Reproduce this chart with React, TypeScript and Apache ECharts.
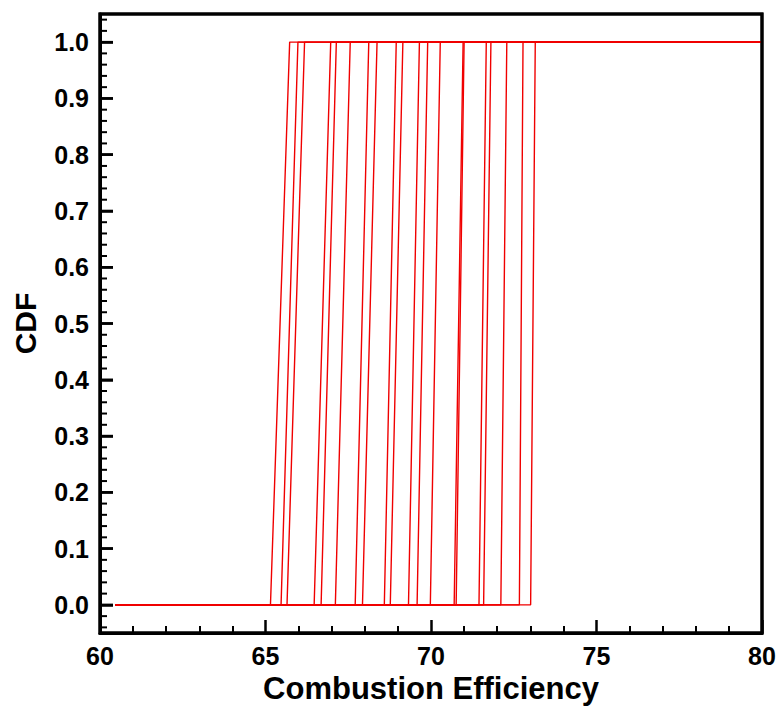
import React, { useEffect, useRef } from "react";
import * as echarts from "echarts";

// x where each CDF curve leaves 0 and where it reaches 1
const curveStart = [
  65.15, 65.47, 65.65, 66.47, 66.68, 67.11, 67.71, 67.93, 68.59, 68.77,
  69.32, 69.58, 69.98, 70.70, 70.76, 71.45, 71.59, 72.11, 72.67, 73.01,
];
const curveEnd = [
  65.73, 65.98, 66.18, 66.97, 67.14, 67.56, 68.12, 68.37, 68.95, 69.15,
  69.65, 69.90, 70.28, 70.97, 71.00, 71.67, 71.81, 72.29, 72.78, 73.15,
];
const sampleMin = 60.47;
const sampleMax = 80;
const xRange = [60, 80];
const yRange = [-0.05, 1.05];
const yMajorTicks = [0, 0.1, 0.2, 0.3, 0.4, 0.5, 0.6, 0.7, 0.8, 0.9, 1.0];
const yMinorPerMajor = 5;

const FONT = "Liberation Sans, Arial, Helvetica, sans-serif";

export default function App() {
  const ref = useRef<HTMLDivElement>(null);
  useEffect(() => {
    if (!ref.current) return;
    const chart = echarts.init(ref.current, undefined, { renderer: "svg" });

    const step = (yMajorTicks[1] - yMajorTicks[0]) / yMinorPerMajor;
    const yMinorTicks: number[] = [];
    for (let v = yMajorTicks[0] - step; v > yRange[0]; v -= step) yMinorTicks.push(+v.toFixed(4));
    for (let i = 0; i < yMajorTicks.length; i++) {
      for (let k = 1; k < yMinorPerMajor; k++) {
        const v = +(yMajorTicks[i] + k * step).toFixed(4);
        if (i < yMajorTicks.length - 1 || v < yRange[1]) yMinorTicks.push(v);
      }
    }

    const curves = curveStart.map((a, i) => ({
      type: "line",
      showSymbol: false,
      xAxisIndex: 0,
      yAxisIndex: 0,
      lineStyle: { color: "#f00000", width: 1.4 },
      data: [
        [sampleMin, 0],
        [a, 0],
        [curveEnd[i], 1],
        [sampleMax, 1],
      ],
    }));

    const tickSeries = (values: number[], len: number, width: number) => ({
      type: "custom",
      xAxisIndex: 0,
      yAxisIndex: 0,
      clip: false,
      z: 6,
      data: values.map((v) => [xRange[0], v]),
      renderItem: (_params: any, api: any) => {
        const p = api.coord([api.value(0), api.value(1)]);
        return {
          type: "line",
          shape: { x1: p[0], y1: p[1], x2: p[0] + len, y2: p[1] },
          style: { stroke: "#000000", lineWidth: width },
        };
      },
    });

    const frameSeries = {
      type: "custom",
      xAxisIndex: 0,
      yAxisIndex: 0,
      clip: false,
      z: 7,
      data: [[xRange[0], yRange[0], xRange[1], yRange[1]]],
      renderItem: (_params: any, api: any) => {
        const tl = api.coord([api.value(0), api.value(3)]);
        const br = api.coord([api.value(2), api.value(1)]);
        return {
          type: "rect",
          shape: { x: tl[0], y: tl[1], width: br[0] - tl[0], height: br[1] - tl[1] },
          style: { fill: "none", stroke: "#000000", lineWidth: 3 },
        };
      },
    };

    chart.setOption({
      animation: false,
      tooltip: { show: false },
      grid: {
        left: 100,
        right: 20,
        top: 14,
        bottom: 80,
        show: true,
        borderColor: "#000000",
        borderWidth: 3,
        backgroundColor: "transparent",
      },
      xAxis: [
        {
          type: "value",
          min: xRange[0],
          max: xRange[1],
          interval: 5,
          name: "Combustion Efficiency",
          nameLocation: "middle",
          nameGap: 36,
          nameTextStyle: { fontFamily: FONT, fontWeight: "bold", fontSize: 31, color: "#000000" },
          axisLine: { show: true, onZero: false, lineStyle: { color: "#000000", width: 3 } },
          axisTick: { show: true, inside: true, length: 13, lineStyle: { color: "#000000", width: 2.5 } },
          minorTick: { show: true, splitNumber: 5, length: 7, lineStyle: { color: "#000000", width: 2 } },
          splitLine: { show: false },
          axisLabel: {
            margin: 10,
            fontFamily: FONT,
            fontWeight: "bold",
            fontSize: 25,
            color: "#000000",
          },
        },
      ],
      yAxis: [
        {
          type: "value",
          min: yRange[0],
          max: yRange[1],
          splitNumber: 11,
          name: "CDF",
          nameLocation: "middle",
          nameGap: 60,
          nameTextStyle: { fontFamily: FONT, fontWeight: "bold", fontSize: 30, color: "#000000" },
          axisLine: { show: true, onZero: false, lineStyle: { color: "#000000", width: 3 } },
          axisTick: { show: true, inside: true, length: 13, lineStyle: { color: "#000000", width: 2.5 } },
          splitLine: { show: false },
          axisLabel: {
            margin: 11,
            showMinLabel: false,
            showMaxLabel: false,
            fontFamily: FONT,
            fontWeight: "bold",
            fontSize: 25,
            color: "#000000",
            formatter: (v: number) => v.toFixed(1),
          },
        },
      ],
      series: [
        ...curves,
        tickSeries(yMajorTicks, 13, 2.5),
        tickSeries(yMinorTicks, 7, 2),
        frameSeries,
      ],
    });
    return () => chart.dispose();
  }, []);
  return <div ref={ref} style={{ width: 782, height: 713, position: "absolute", left: 0, top: 0 }} />;
}
